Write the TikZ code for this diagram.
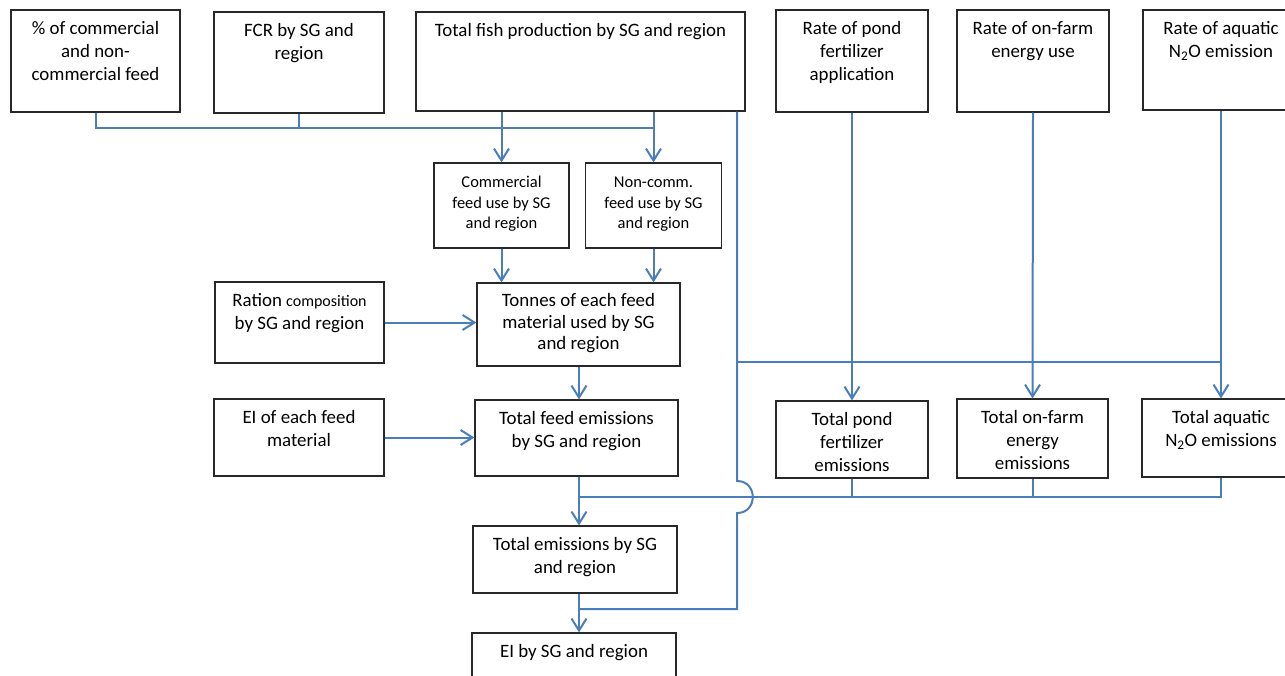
\documentclass[tikz,border=0pt]{standalone}
\usepackage{fontspec}
\setmainfont{Carlito}
\usetikzlibrary{arrows.meta}
\definecolor{lnblue}{RGB}{74,126,187}
\definecolor{bxgray}{RGB}{40,40,40}
\begin{document}
\begin{tikzpicture}[x=1pt,y=-1pt,
 box/.style={draw=bxgray, line width=1.1pt, inner sep=0, fill=white},
 txt/.style={inner sep=0, align=center, anchor=north, yshift=-8.9pt, font=\fontsize{18.9}{23}\selectfont},
 stxt/.style={inner sep=0, align=center, anchor=north, yshift=-10.8pt, font=\fontsize{16.5}{20.5}\selectfont},
 conn/.style={draw=lnblue, line width=2pt},
 arr/.style={conn, -{Straight Barb[length=12pt,width=15pt]}},
]
\path[use as bounding box, fill=white] (0,0) rectangle (1285,675);
\clip (0,0) rectangle (1285,675);
% boxes
\node[box, minimum width=169pt, minimum height=102pt] (b1) at (95.5,61) {};
\node[box, minimum width=170pt, minimum height=101pt] (b2) at (299,62.5) {};
\node[box, minimum width=329pt, minimum height=99pt] (b3) at (580.5,61.5) {};
\node[box, minimum width=152pt, minimum height=102pt] (b4) at (852,61) {};
\node[box, minimum width=152pt, minimum height=102pt] (b5) at (1033,61) {};
\node[box, minimum width=156pt, minimum height=100pt] (b6) at (1221,60) {};
\node[box, minimum width=135pt, minimum height=85pt] (cf) at (501.5,205.5) {};
\node[box, minimum width=136pt, minimum height=85pt] (nc) at (653.5,205.5) {};
\node[box, minimum width=203pt, minimum height=83pt] (tn) at (578.5,324.5) {};
\node[box, minimum width=169pt, minimum height=81pt] (rc) at (299.5,322.5) {};
\node[box, minimum width=203pt, minimum height=76pt] (tf) at (576.5,438) {};
\node[box, minimum width=170pt, minimum height=77pt] (ei) at (299,437.5) {};
\node[box, minimum width=204pt, minimum height=67pt] (te) at (575,559.5) {};
\node[box, minimum width=204pt, minimum height=67pt] (eb) at (574,666.5) {};
\node[box, minimum width=152pt, minimum height=77pt] (tp) at (852,439.5) {};
\node[box, minimum width=151pt, minimum height=79pt] (toe) at (1032.5,438.5) {};
\node[box, minimum width=158pt, minimum height=78pt] (ta) at (1221,438) {};
% texts
\node[txt] (b1t) at (b1.north) {\strut\% of commercial\\and non-\\commercial feed};
\node[txt] (b2t) at (b2.north) {\strut FCR by SG and\\region};
\node[txt] (b3t) at (b3.north) {\strut Total fish production by SG and region};
\node[txt] (b4t) at (b4.north) {\strut Rate of pond\\fertilizer\\application};
\node[txt] (b5t) at (b5.north) {\strut Rate of on-farm\\energy use};
\node[txt] (b6t) at (b6.north) {\strut Rate of aquatic\\N\textsubscript{2}O emission};
\node[stxt] (cft) at (cf.north) {\strut Commercial\\feed use by SG\\and region};
\node[stxt] (nct) at (nc.north) {\strut Non-comm.\\feed use by SG\\and region};
\node[txt, font=\fontsize{18.9}{21.5}\selectfont] (tnt) at (tn.north) {\strut Tonnes of each feed\\material used by SG\\and region};
\node[txt] (rct) at (rc.north) {\strut Ration {\fontsize{16}{20}\selectfont composition}\\by SG and region};
\node[txt] (tft) at (tf.north) {\strut Total feed emissions\\by SG and region};
\node[txt] (eit) at (ei.north) {\strut EI of each feed\\material};
\node[txt] (tet) at (te.north) {\strut Total emissions by SG\\and region};
\node[txt] (ebt) at (eb.north) {\strut EI by SG and region};
\node[txt] (tpt) at (tp.north) {\strut Total pond\\fertilizer\\emissions};
\node[txt] (toet) at (toe.north) {\strut Total on-farm\\energy\\emissions};
\node[txt] (tat) at (ta.north) {\strut Total aquatic\\N\textsubscript{2}O emissions};
% helper coordinates
\coordinate (sp) at (579,0);
\coordinate (vx) at (737,0);
\coordinate (hA) at (0,128);
\coordinate (hB) at (0,362);
\coordinate (hC) at (0,497);
\coordinate (hD) at (0,609);
% connectors
\draw[conn] (b1.south) -- (b1.south |- hA) -- (nc.north |- hA);
\draw[conn] (b2.south) -- (b2.south |- hA);
\draw[arr] (b3.south -| cf.north) -- (cf.north);
\draw[arr] (b3.south -| nc.north) -- (nc.north);
\draw[arr] (cf.south) -- (cf.south |- tn.north);
\draw[arr] (nc.south) -- (nc.south |- tn.north);
\draw[arr] (rc.east) -- (rc.east -| tn.west);
\draw[arr] (ei.east) -- (ei.east -| tf.west);
\draw[arr] (tn.south -| sp) -- (tf.north -| sp);
\draw[arr] (tf.south -| sp) -- (te.north -| sp);
\draw[arr] (te.south -| sp) -- (eb.north -| sp);
\draw[conn] (ta.south) -- (ta.south |- hC) -- (hC -| sp);
\draw[conn] (tp.south) -- (tp.south |- hC);
\draw[conn] (toe.south) -- (toe.south |- hC);
\draw[arr] (b4.south) -- (tp.north);
\draw[arr] (b5.south) -- (toe.north);
\draw[arr] (b6.south) -- (ta.north);
\draw[conn] (vx |- hB) -- (b6.south |- hB);
\draw[conn] (b3.south -| vx) -- ([yshift=16pt]vx |- hC)
  .. controls ([xshift=21pt,yshift=16pt]vx |- hC) and ([xshift=21pt,yshift=-16pt]vx |- hC) ..
  ([yshift=-16pt]vx |- hC) -- (vx |- hD) -- (sp |- hD);
\end{tikzpicture}
\end{document}
